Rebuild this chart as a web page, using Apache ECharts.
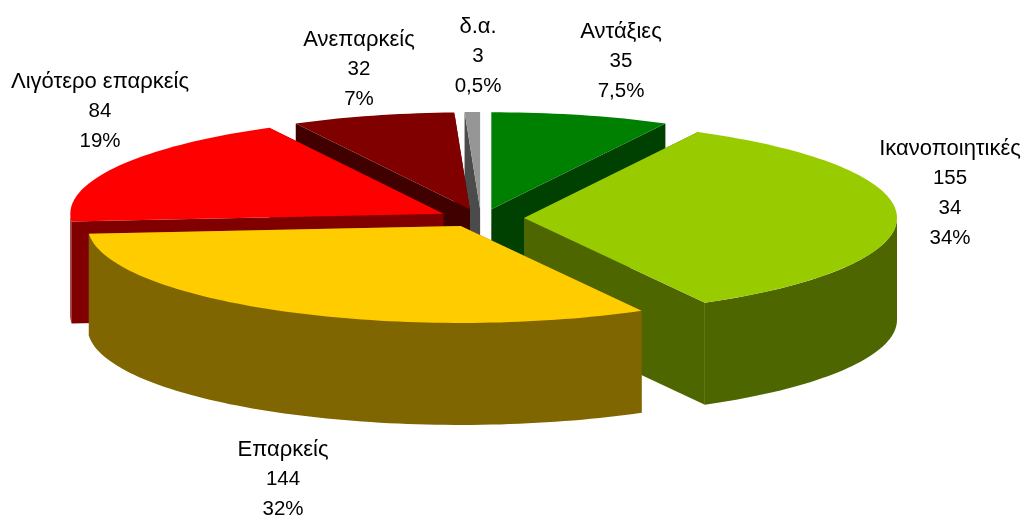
<!DOCTYPE html>
<html>
<head>
<meta charset="utf-8">
<title>Pie</title>
<script src="https://cdn.jsdelivr.net/npm/echarts@6/dist/echarts.min.js"></script>
<style>
  html, body { margin: 0; padding: 0; background: #fff; }
  #chart { width: 1023px; height: 517px; }
</style>
</head>
<body>
<div id="chart"></div>
<script>
// data, clockwise from 12 o'clock
const categories = ["Αντάξιες", "Ικανοποιητικές", "Επαρκείς", "Λιγότερο επαρκείς", "Ανεπαρκείς", "δ.α."];
const values = [35, 155, 144, 84, 32, 3];
const valueLabels = [["35"], ["155", "34"], ["144"], ["84"], ["32"], ["3"]];
const percentLabels = ["7,5%", "34%", "32%", "19%", "7%", "0,5%"];

// styles
const topColors = ["#008000", "#99CC00", "#FFCC00", "#FF0000", "#800000", "#969696"];
const wallColors = ["#004000", "#4D6600", "#806600", "#800000", "#400000", "#4B4B4B"];
const labelCenters = [[621, 17], [950, 134], [283, 435], [100, 67], [359, 25], [478, 12]];
const drawOrder = [5, 4, 0, 3, 1, 2]; // back to front

const centerX = 481;
const centerY = 218;
const radiusX = 373;
const radiusY = 97;
const explodeX = 43;
const explodeY = 9;
const wallHeight = 102;
const lineHeight = 29.7;

const total = values.reduce((a, b) => a + b, 0);

function polygon(points, fill) {
  return { type: "polygon", shape: { points: points }, style: { fill: fill } };
}

function renderSlice(params, api) {
  const index = api.value(0);
  let start = 0;
  for (let i = 0; i < index; i++) start += values[i];
  const a0 = (start / total) * Math.PI * 2;
  const a1 = ((start + api.value(1)) / total) * Math.PI * 2;
  const mid = (a0 + a1) / 2;

  const apex = [centerX + explodeX * Math.sin(mid), centerY - explodeY * Math.cos(mid)];
  const rim = (a) => [apex[0] + radiusX * Math.sin(a), apex[1] - radiusY * Math.cos(a)];
  const down = (p) => [p[0], p[1] + wallHeight];
  const arcPoints = (from, to) => {
    const steps = Math.max(4, Math.ceil((to - from) * 40));
    const points = [];
    for (let s = 0; s <= steps; s++) points.push(rim(from + ((to - from) * s) / steps));
    return points;
  };

  const arc = arcPoints(a0, a1);
  const first = arc[0];
  const last = arc[arc.length - 1];
  const wall = wallColors[index];

  const children = [
    polygon([apex, first, down(first), down(apex)], wall),
    polygon([apex, last, down(last), down(apex)], wall),
  ];

  // only the front half of the rim has a visible outer wall
  const frontFrom = Math.max(a0, Math.PI / 2);
  const frontTo = Math.min(a1, (Math.PI * 3) / 2);
  if (frontTo > frontFrom) {
    const front = arcPoints(frontFrom, frontTo);
    children.push(polygon(front.concat(front.slice().reverse().map(down)), wall));
  }
  children.push(polygon([apex].concat(arc), topColors[index]));

  return { type: "group", children: children };
}

const labelElements = categories.map((name, i) => {
  const lines = ["{name|" + name + "}"];
  valueLabels[i].forEach((v) => lines.push("{num|" + v + "}"));
  lines.push("{num|" + percentLabels[i] + "}");
  return {
    type: "text",
    x: labelCenters[i][0],
    y: labelCenters[i][1],
    silent: true,
    style: {
      text: lines.join("\n"),
      fontFamily: '"Liberation Sans", Arial, sans-serif',
      fill: "#000",
      align: "center",
      verticalAlign: "top",
      rich: {
        name: { fontSize: 22, lineHeight: lineHeight },
        num: { fontSize: 20.5, lineHeight: lineHeight },
      },
    },
  };
});

const myChart = echarts.init(document.getElementById("chart"));
myChart.setOption({
  animation: false,
  backgroundColor: "#fff",
  graphic: { elements: labelElements },
  series: [
    {
      type: "custom",
      coordinateSystem: "none",
      silent: true,
      renderItem: renderSlice,
      data: drawOrder.map((i) => [i, values[i]]),
    },
  ],
});
</script>
</body>
</html>
